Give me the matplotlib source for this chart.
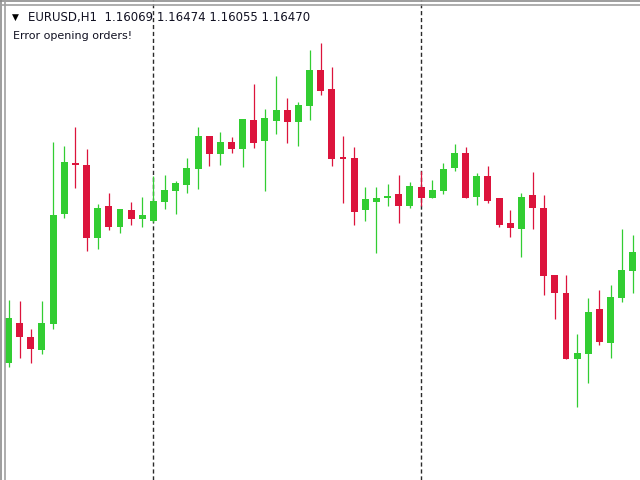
import numpy as np
import matplotlib
matplotlib.use("Agg")
import matplotlib.pyplot as plt
from matplotlib.lines import Line2D

# EURUSD H1 candles
opens = [1.16437, 1.16477, 1.16463, 1.16450, 1.16476, 1.16586, 1.16637, 1.16635, 1.16562, 1.16594,
         1.16573, 1.16590, 1.16581, 1.16579, 1.16598, 1.16609, 1.16615, 1.16631, 1.16664, 1.16646,
         1.16658, 1.16651, 1.16680, 1.16659, 1.16679, 1.16690, 1.16678, 1.16694, 1.16730, 1.16711,
         1.16643, 1.16642, 1.16590, 1.16598, 1.16602, 1.16606, 1.16594, 1.16613, 1.16602, 1.16609,
         1.16632, 1.16647, 1.16603, 1.16624, 1.16602, 1.16577, 1.16571, 1.16605, 1.16592, 1.16525,
         1.16507, 1.16441, 1.16446, 1.16491, 1.16457, 1.16502, 1.16529]
highs = [1.16500, 1.16499, 1.16471, 1.16499, 1.16658, 1.16654, 1.16673, 1.16651, 1.16596, 1.16607,
         1.16591, 1.16598, 1.16603, 1.16624, 1.16625, 1.16619, 1.16642, 1.16673, 1.16664, 1.16668,
         1.16663, 1.16681, 1.16716, 1.16691, 1.16724, 1.16702, 1.16698, 1.16750, 1.16757, 1.16733,
         1.16664, 1.16653, 1.16613, 1.16613, 1.16616, 1.16625, 1.16618, 1.16629, 1.16620, 1.16637,
         1.16656, 1.16653, 1.16627, 1.16634, 1.16602, 1.16590, 1.16607, 1.16628, 1.16605, 1.16525,
         1.16525, 1.16466, 1.16502, 1.16510, 1.16515, 1.16571, 1.16565]
lows = [1.16433, 1.16442, 1.16437, 1.16446, 1.16471, 1.16582, 1.16612, 1.16549, 1.16551, 1.16570,
        1.16567, 1.16575, 1.16573, 1.16578, 1.16591, 1.16586, 1.16607, 1.16611, 1.16634, 1.16635,
        1.16647, 1.16633, 1.16652, 1.16609, 1.16666, 1.16657, 1.16654, 1.16680, 1.16705, 1.16634,
        1.16597, 1.16575, 1.16579, 1.16547, 1.16594, 1.16577, 1.16592, 1.16594, 1.16602, 1.16606,
        1.16629, 1.16602, 1.16595, 1.16597, 1.16573, 1.16563, 1.16543, 1.16571, 1.16505, 1.16481,
        1.16441, 1.16393, 1.16417, 1.16455, 1.16442, 1.16498, 1.16507]
closes = [1.16482, 1.16463, 1.16451, 1.16477, 1.16585, 1.16638, 1.16635, 1.16562, 1.16592, 1.16573,
          1.16591, 1.16581, 1.16585, 1.16599, 1.16610, 1.16617, 1.16632, 1.16664, 1.16646, 1.16658,
          1.16651, 1.16681, 1.16657, 1.16682, 1.16690, 1.16678, 1.16695, 1.16730, 1.16709, 1.16641,
          1.16641, 1.16588, 1.16601, 1.16602, 1.16603, 1.16594, 1.16614, 1.16602, 1.16610, 1.16631,
          1.16647, 1.16602, 1.16624, 1.16599, 1.16575, 1.16572, 1.16603, 1.16592, 1.16524, 1.16507,
          1.16441, 1.16447, 1.16488, 1.16458, 1.16503, 1.16530, 1.16548]

# bars where a new day starts (period separators)
separators = [13, 37]

header = "EURUSD,H1  1.16069 1.16474 1.16055 1.16470"
comment = "Error opening orders!"

bull = "#32CD32"
bear = "#DC143C"

fig = plt.figure(figsize=(6.4, 4.8), dpi=100)
ax = fig.add_axes([0, 0, 1, 1])

x = np.arange(len(opens))
o = np.array(opens)
h = np.array(highs)
l = np.array(lows)
c = np.array(closes)
colors = [bull if cc >= oo else bear for oo, cc in zip(o, c)]

ax.vlines(x, l, h, colors=colors, linewidth=0.9, zorder=2)
body_bottom = np.minimum(o, c)
body_height = np.maximum(np.abs(c - o), 0.000015)
ax.bar(x, body_height, bottom=body_bottom, width=0.62, color=colors, linewidth=0, zorder=3)

for s in separators:
    ax.axvline(s, color="#2a2a2a", linewidth=1.0, linestyle=(0, (3, 2)), zorder=1)

step = 11.15
ax.set_xlim(-8.5 / step, (640 - 8.5) / step)
ax.set_ylim(1.16320, 1.16800)
ax.axis("off")

# window frame (double lines top and left)
for pos, col in [(0.5, "#8c8c8c"), (5.0, "#a0a0a0")]:
    fig.add_artist(Line2D([0, 1], [1 - pos / 480, 1 - pos / 480], color=col, linewidth=1.2))
    fig.add_artist(Line2D([pos / 640, pos / 640], [0, 1], color=col, linewidth=1.2))

fig.text(12 / 640, 1 - 17 / 480, "\u25BC", fontsize=6.5, color="black", va="center", ha="left")
fig.text(28 / 640, 1 - 17 / 480, header, fontsize=8.5, color="#111122", va="center", ha="left")
fig.text(13 / 640, 1 - 36 / 480, comment, fontsize=8.0, color="#111122", va="center", ha="left")

fig.savefig("out.png", dpi=100)
